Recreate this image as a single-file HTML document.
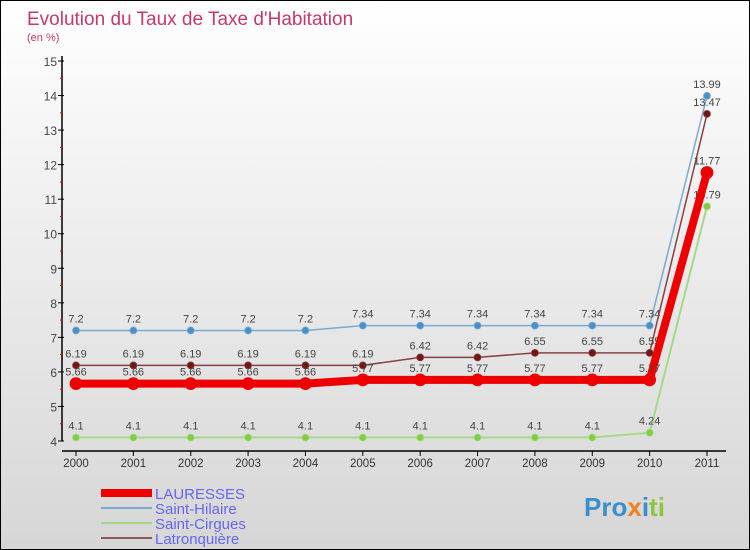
<!DOCTYPE html>
<html><head><meta charset="utf-8"><style>
body{margin:0}
#c{width:750px;height:550px;position:relative;box-sizing:border-box;border:1px solid #000;background:linear-gradient(#ffffff,#d6d6d6);font-family:"Liberation Sans",sans-serif;overflow:hidden}
svg text{font-family:"Liberation Sans",sans-serif}
</style></head><body>
<div id="c">
<svg id="s" width="750" height="550">
<text x="26" y="24" font-size="19" fill="#c8386a">Evolution du Taux de Taxe d'Habitation</text>
<text x="26" y="40" font-size="11" fill="#c8386a">(en %)</text>
<text x="583" y="515" font-size="26" font-weight="bold" fill="#3a8fd0">Pro<tspan fill="#f08020">x</tspan><tspan fill="#3a8fd0">i</tspan><tspan fill="#8cc63f">ti</tspan></text>
</svg>
</div>
<script>
const years=['2000','2001','2002','2003','2004','2005','2006','2007','2008','2009','2010','2011'];
const yTicks=[4,5,6,7,8,9,10,11,12,13,14,15];
const lauresses=[5.66,5.66,5.66,5.66,5.66,5.77,5.77,5.77,5.77,5.77,5.77,11.77];
const saintHilaire=[7.2,7.2,7.2,7.2,7.2,7.34,7.34,7.34,7.34,7.34,7.34,13.99];
const saintCirgues=[4.1,4.1,4.1,4.1,4.1,4.1,4.1,4.1,4.1,4.1,4.24,10.79];
const latronquiere=[6.19,6.19,6.19,6.19,6.19,6.19,6.42,6.42,6.55,6.55,6.55,13.47];
const NS='http://www.w3.org/2000/svg';
const svg=document.getElementById('s');
const X=i=>75+i*(631/11);
const Y=v=>440-(v-4)*(380/11);
function mk(t,a,p){const e=document.createElementNS(NS,t);for(const k in a)e.setAttribute(k,a[k]);(p||svg).appendChild(e);return e;}
// axes
let e=mk('line',{x1:61,y1:55,x2:61,y2:440,stroke:'#000','stroke-width':1.5});


e=mk('line',{x1:61,y1:450,x2:725,y2:450,stroke:'#000','stroke-width':1.5});


yTicks.forEach(v=>{
  mk('line',{x1:57,y1:Y(v),x2:63,y2:Y(v),stroke:'#000'});
  if(v<15)mk('line',{x1:59,y1:Y(v+0.5),x2:62,y2:Y(v+0.5),stroke:'#e00'});
  const t=mk('text',{x:56,y:Y(v)+5,'text-anchor':'end','font-size':12,fill:'#444'});t.textContent=v;
  
  
});
years.forEach((y,i)=>{
  mk('line',{x1:X(i),y1:450,x2:X(i),y2:455,stroke:'#000'});
  const t=mk('text',{x:X(i),y:466,'text-anchor':'middle','font-size':11.5,fill:'#333'});t.textContent=y;
  
  
});
function series(data,color,dot,w,r,name){
  const g=mk('g',{});
  
  
  mk('polyline',{points:data.map((v,i)=>X(i)+','+Y(v)).join(' '),fill:'none',stroke:color,'stroke-width':w},g);
  data.forEach((v,i)=>{
    const c=mk('circle',{cx:X(i),cy:Y(v),r:r,fill:dot,stroke:color,'stroke-width':0.8},g);
    
    
    const t=mk('text',{x:X(i),y:Y(v)-8,'text-anchor':'middle','font-size':11,fill:'#444'},g);t.textContent=v;
  });
}
series(saintCirgues,'#a6d88a','#7ed040',2,3.5,'saint-cirgues-series');
series(saintHilaire,'#7aaad0','#4a90c8',1.5,3.5,'saint-hilaire-series');
series(latronquiere,'#8a4040','#701818',1.5,3.5,'latronquiere-series');
series(lauresses,'#ee0000','#ee0000',8,6,'lauresses-series');
// legend
const leg=[['LAURESSES','#ee0000',8],['Saint-Hilaire','#7aaad0',2],['Saint-Cirgues','#a6d88a',2],['Latronquière','#8a5a5a',2]];
leg.forEach((l,i)=>{
  const y=492+i*15;
  const g=mk('g',{});
  
  
  mk('line',{x1:100,y1:y,x2:151,y2:y,stroke:l[1],'stroke-width':l[2]},g);
  const t=mk('text',{x:154,y:y+6,'font-size':15,fill:'#6666ee'},g);t.textContent=l[0];
});
</script>
</body></html>
